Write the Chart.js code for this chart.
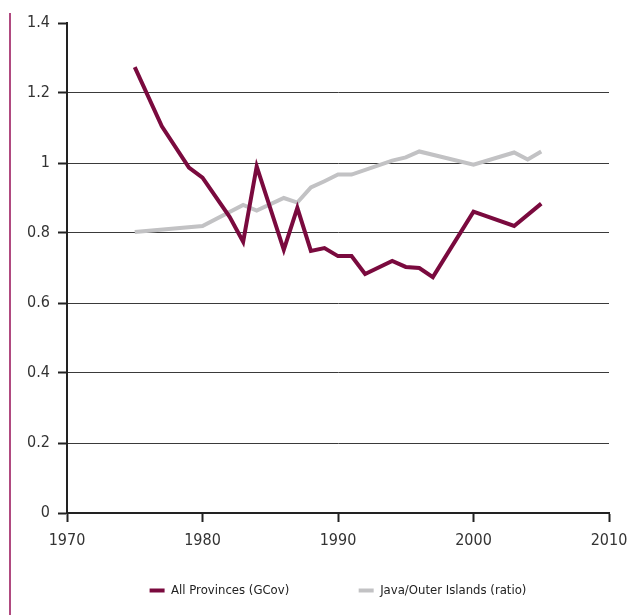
<!DOCTYPE html>
<html>
<head>
<meta charset="utf-8">
<script src="https://cdn.jsdelivr.net/npm/chart.js@4"></script>
<style>
  body { margin: 0; background: #fff; }
  #wrap { position: relative; width: 630px; height: 615px; }
  #rule { position: absolute; left: 9px; top: 13px; width: 2px; height: 602px; background: #b04a80; }
  canvas { position: absolute; left: 0; top: 0; }
</style>
</head>
<body>
<div id="wrap">
  <div id="rule"></div>
  <canvas id="chart" width="630" height="615"></canvas>
</div>
<script>
// All Provinces (GCov)
const gcovYears = [1975, 1977, 1979, 1980, 1982, 1983, 1984, 1986, 1987, 1988, 1989, 1990, 1991, 1992, 1994, 1995, 1996, 1997, 2000, 2003, 2005];
const gcovValues = [1.274, 1.105, 0.987, 0.958, 0.846, 0.775, 0.99, 0.752, 0.872, 0.749, 0.757, 0.734, 0.734, 0.683, 0.72, 0.703, 0.70, 0.674, 0.861, 0.82, 0.884];

// Java/Outer Islands (ratio)
const ratioYears = [1975, 1980, 1983, 1984, 1986, 1987, 1988, 1989, 1990, 1991, 1994, 1995, 1996, 2000, 2003, 2004, 2005];
const ratioValues = [0.803, 0.82, 0.88, 0.864, 0.90, 0.887, 0.93, 0.948, 0.967, 0.967, 1.007, 1.016, 1.033, 0.995, 1.03, 1.01, 1.033];

const seriesLabels = ["All Provinces (GCov)", "Java/Outer Islands (ratio)"];
const xTicks = [1970, 1980, 1990, 2000, 2010];
const yTicks = [0, 0.2, 0.4, 0.6, 0.8, 1, 1.2, 1.4];

const tickFont = { family: "'DejaVu Sans Condensed', sans-serif", size: 16 };
const legendFont = { family: "'DejaVu Sans Condensed', sans-serif", size: 13 };

const toPoints = (xs, ys) => xs.map((x, i) => ({ x: x, y: ys[i] }));

// pad legend text with spaces so the items sit where the original puts them
const padTo = (ctx, text, width) => {
  ctx.save();
  ctx.font = legendFont.size + "px " + legendFont.family;
  let t = text;
  while (ctx.measureText(t).width < width) t += " ";
  ctx.restore();
  return t;
};
const legendWidths = [177, 120];

const chart = new Chart(document.getElementById("chart"), {
  type: "line",
  data: {
    datasets: [
      {
        label: seriesLabels[0],
        data: toPoints(gcovYears, gcovValues),
        borderColor: "#7a0a3e",
        backgroundColor: "#7a0a3e",
        borderWidth: 4,
      },
      {
        label: seriesLabels[1],
        data: toPoints(ratioYears, ratioValues),
        borderColor: "#c2c2c4",
        backgroundColor: "#c2c2c4",
        borderWidth: 4,
      },
    ],
  },
  options: {
    responsive: false,
    animation: false,
    layout: { padding: { top: 23, right: 21, bottom: 8, left: 0 } },
    elements: {
      point: { radius: 0 },
      line: { tension: 0, borderJoinStyle: "miter", borderCapStyle: "butt" },
    },
    scales: {
      x: {
        type: "linear",
        min: xTicks[0],
        max: xTicks[xTicks.length - 1],
        afterBuildTicks: (s) => { s.ticks = xTicks.map((v) => ({ value: v })); },
        afterFit: (s) => {
          s.height = 61;
          s.paddingLeft = 0;
          s.paddingRight = 0;
        },
        ticks: {
          callback: (v) => String(v),
          font: tickFont,
          color: "#333",
          padding: 9,
          maxRotation: 0,
        },
        grid: {
          drawOnChartArea: false,
          drawTicks: true,
          tickLength: 9,
          tickColor: "#222",
          tickWidth: 2,
        },
        border: { color: "#222", width: 2 },
      },
      y: {
        min: yTicks[0],
        max: yTicks[yTicks.length - 1],
        afterBuildTicks: (s) => { s.ticks = yTicks.map((v) => ({ value: v })); },
        afterFit: (s) => {
          s.width = 67;
          s.paddingTop = 0;
          s.paddingBottom = 0;
        },
        ticks: {
          callback: (v) => String(Number(v.toFixed(1))),
          font: tickFont,
          color: "#333",
          padding: 8,
        },
        grid: {
          color: (c) => (c.tick && (c.tick.value === 0 || c.tick.value === 1.4) ? "rgba(0,0,0,0)" : "#3a3a3a"),
          lineWidth: 1,
          tickLength: 9,
          tickColor: "#222",
          tickWidth: 2,
        },
        border: { color: "#222", width: 2 },
      },
    },
    plugins: {
      tooltip: { enabled: false },
      legend: {
        position: "bottom",
        fullSize: false,
        labels: {
          boxWidth: 15,
          boxHeight: 4,
          padding: 10,
          color: "#222",
          font: legendFont,
          generateLabels: (c) =>
            Chart.defaults.plugins.legend.labels.generateLabels(c).map((item, i) => {
              item.text = padTo(c.ctx, item.text, legendWidths[i]);
              item.lineWidth = 0;
              return item;
            }),
        },
      },
    },
  },
});
</script>
</body>
</html>
